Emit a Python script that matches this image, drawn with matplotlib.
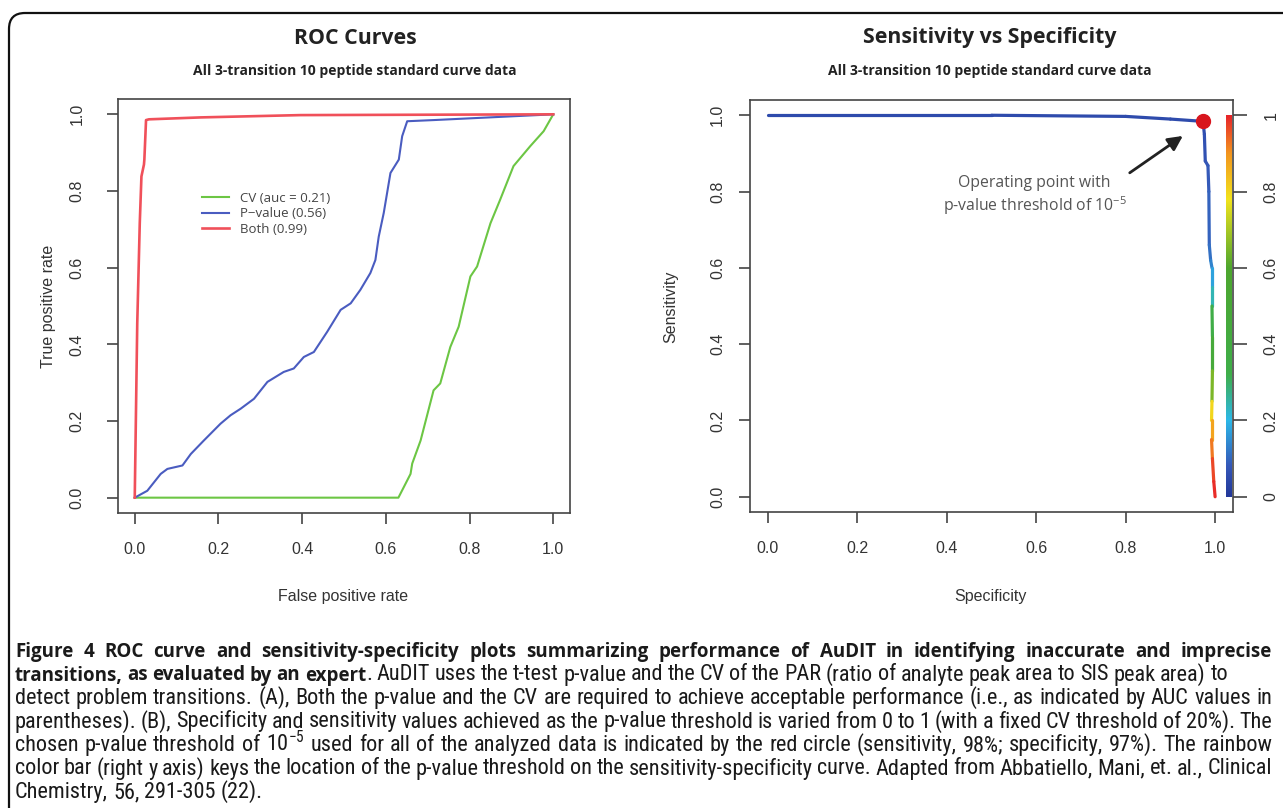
import numpy as np
import matplotlib
matplotlib.use('Agg')
import matplotlib.pyplot as plt
from matplotlib import font_manager
from matplotlib.collections import LineCollection
from matplotlib.colors import LinearSegmentedColormap
from matplotlib.patches import FancyBboxPatch
from matplotlib.transforms import IdentityTransform

plt.rcParams['mathtext.default'] = 'regular'

# --- ROC curves (panel A) ---
cv_fpr = [0.0, 0.30, 0.63, 0.659, 0.663, 0.683, 0.714, 0.730, 0.754, 0.774, 0.802, 0.818, 0.850, 0.873, 0.905, 0.945, 0.977, 1.0]
cv_tpr = [0.0, 0.0, 0.0, 0.062, 0.089, 0.149, 0.280, 0.298, 0.393, 0.446, 0.577, 0.603, 0.716, 0.777, 0.865, 0.917, 0.956, 1.0]

pv_fpr = [0.0, 0.030, 0.062, 0.078, 0.114, 0.134, 0.165, 0.205, 0.229, 0.253, 0.285, 0.317, 0.356, 0.380,
          0.404, 0.428, 0.460, 0.492, 0.516, 0.539, 0.563, 0.575, 0.583, 0.595, 0.611, 0.631, 0.639, 0.651, 0.714, 1.0]
pv_tpr = [0.0, 0.018, 0.062, 0.075, 0.084, 0.114, 0.149, 0.193, 0.215, 0.232, 0.258, 0.302, 0.328, 0.337,
          0.367, 0.380, 0.433, 0.490, 0.507, 0.542, 0.586, 0.620, 0.681, 0.743, 0.847, 0.882, 0.943, 0.982, 0.985, 1.0]

both_fpr = [0.0, 0.006, 0.012, 0.016, 0.022, 0.023, 0.027, 0.034, 0.158, 0.396, 1.0]
both_tpr = [0.0, 0.455, 0.716, 0.838, 0.869, 0.882, 0.985, 0.987, 0.992, 0.998, 1.0]

roc_labels = ['CV (auc = 0.21)', 'P\u2212value (0.56)', 'Both (0.99)']

# --- Sensitivity vs specificity (panel B), colored by p-value threshold ---
spec = [0.0, 0.5, 0.8, 0.9, 0.973, 0.976, 0.978, 0.984, 0.986, 0.987, 0.990, 0.993, 0.993, 0.993,
        0.994, 0.994, 0.993, 0.992, 0.992, 0.994, 0.997, 1.0]
sens = [1.0, 1.0, 0.997, 0.990, 0.984, 0.950, 0.880, 0.868, 0.800, 0.660, 0.620, 0.600, 0.550, 0.500,
        0.420, 0.330, 0.250, 0.200, 0.150, 0.100, 0.040, 0.0]
pthr = [0.05, 0.05, 0.05, 0.05, 0.05, 0.06, 0.07, 0.08, 0.09, 0.10, 0.12, 0.15, 0.20, 0.28,
        0.40, 0.55, 0.75, 0.85, 0.90, 0.95, 0.98, 1.0]
op_spec, op_sens = 0.973, 0.984

tick_vals = [0.0, 0.2, 0.4, 0.6, 0.8, 1.0]
tick_labels = ['0.0', '0.2', '0.4', '0.6', '0.8', '1.0']
right_labels = ['0', '0.2', '0.4', '0.6', '0.8', '1']

caption_lines = [
    [("Figure 4 ROC curve and sensitivity-specificity plots summarizing performance of AuDIT in identifying inaccurate and imprecise", 'bold')],
    [("transitions, as evaluated by an expert", 'bold'),
     (". AuDIT uses the t-test p-value and the CV of the PAR (ratio of analyte peak area to SIS peak area) to", 'normal')],
    [("detect problem transitions. (A), Both the p-value and the CV are required to achieve acceptable performance (i.e., as indicated by AUC values in", 'normal')],
    [("parentheses). (B), Specificity and sensitivity values achieved as the p-value threshold is varied from 0 to 1 (with a fixed CV threshold of 20%). The", 'normal')],
    [("chosen p-value threshold of 10$^{-5}$ used for all of the analyzed data is indicated by the red circle (sensitivity, 98%; specificity, 97%). The rainbow", 'normal')],
    [("color bar (right y axis) keys the location of the p-value threshold on the sensitivity-specificity curve. Adapted from Abbatiello, Mani, et. al., Clinical", 'normal')],
    [("Chemistry, 56, 291-305 (22).", 'normal')],
]
caption_right = [1272, 1228, 1272, 1272, 1272, 1272, None]

# fonts: look for a condensed sans for the caption body
fonts = font_manager.fontManager.ttflist
names = {f.name for f in fonts}
NARROW, NARROW_STRETCH = 'Liberation Sans', 'normal'
for cand in ['Liberation Sans Narrow', 'Roboto Condensed', 'Noto Sans Condensed', 'Open Sans Condensed',
             'DejaVu Sans Condensed']:
    if cand in names:
        NARROW = cand
        break
else:
    for fam in ['Noto Sans', 'Open Sans', 'DejaVu Sans']:
        if any(f.name == fam and f.stretch in ('condensed', 'semi-condensed', 500)
               for f in fonts):
            NARROW, NARROW_STRETCH = fam, 'condensed'
            break
AXFONT = 'Liberation Sans'
TFONT = 'Open Sans'

W, H = 1283, 808
fig = plt.figure(figsize=(W / 100, H / 100), dpi=100)


def px_axes(l, t, r, b):
    return fig.add_axes([l / W, 1 - b / H, (r - l) / W, (b - t) / H])


def style_axes(ax, ypad):
    ax.set_xlim(-0.04, 1.04)
    ax.set_ylim(-0.04, 1.04)
    for s in ax.spines.values():
        s.set_color('#444444')
        s.set_linewidth(1.2)
    ax.set_xticks(tick_vals)
    ax.set_xticklabels(tick_labels, fontsize=11.5, family=AXFONT, color='#333333')
    ax.set_yticks(tick_vals)
    ax.set_yticklabels(tick_labels, fontsize=11.5, family=AXFONT, color='#333333',
                       rotation=90, va='center')
    ax.tick_params(axis='x', length=8, width=1.2, color='#444444', pad=13)
    ax.tick_params(axis='y', length=8, width=1.2, color='#444444', pad=ypad)


# ---------------- panel A ----------------
axA = px_axes(118, 99, 570, 513)
style_axes(axA, 16)
axA.plot(cv_fpr, cv_tpr, color='#6cc644', lw=1.5, label=roc_labels[0])
axA.plot(pv_fpr, pv_tpr, color='#4a5cc0', lw=1.5, label=roc_labels[1])
axA.plot(both_fpr, both_tpr, color='#f0505a', lw=1.9, label=roc_labels[2])
leg = axA.legend(loc='upper left', bbox_to_anchor=(0.16, 0.805), frameon=False,
                 prop={'family': TFONT, 'size': 9.5}, handlelength=2.0,
                 handletextpad=0.9, labelspacing=0.2)
for t in leg.get_texts():
    t.set_color('#444444')

# ---------------- panel B ----------------
axB = px_axes(750, 100, 1233, 512)
style_axes(axB, 10)

cmap = LinearSegmentedColormap.from_list('pv', [
    (0.0, '#23389a'), (0.08, '#3558b8'), (0.2, '#2cb8e8'), (0.32, '#3fae4a'),
    (0.6, '#4ea62e'), (0.78, '#f2e31c'), (0.9, '#f3961f'), (1.0, '#e8242a')])

pts = np.column_stack([spec, sens])
segs = np.stack([pts[:-1], pts[1:]], axis=1)
seg_c = [(a + b) / 2 for a, b in zip(pthr[:-1], pthr[1:])]
lc = LineCollection(segs, cmap=cmap, linewidths=2.3, capstyle='round', joinstyle='round')
lc.set_array(np.array(seg_c))
lc.set_clim(0, 1)
axB.add_collection(lc)

# rainbow key along right edge
grad = np.linspace(0, 1, 256).reshape(-1, 1)
axB.imshow(grad, cmap=cmap, origin='lower', aspect='auto', extent=[1.024, 1.037, 0, 1],
           interpolation='bilinear', zorder=2)
axB.set_xlim(-0.04, 1.04)
axB.set_ylim(-0.04, 1.04)

axB.plot([op_spec], [op_sens], 'o', color='#d8161e', ms=10, zorder=5)
axB.annotate('', xy=(0.933, 0.950), xytext=(0.804, 0.845),
             arrowprops=dict(arrowstyle='-|>', color='#222222', lw=2, mutation_scale=22))
axB.text(0.596, 0.788, 'Operating point with\np-value threshold of 10$^{-5}$', ha='center',
         va='center', fontsize=11.3, family=TFONT, color='#555555', linespacing=1.2)

axR = axB.twinx()
axR.set_ylim(-0.04, 1.04)
axR.set_yticks(tick_vals)
axR.set_yticklabels(right_labels, fontsize=11.5, family=AXFONT, color='#333333',
                    rotation=90, va='center')
axR.tick_params(axis='y', length=10, width=1.2, color='#444444', pad=12)
for s in axR.spines.values():
    s.set_visible(False)

# titles and axis labels
for cx, title in [(355, 'ROC Curves'), (990, 'Sensitivity vs Specificity')]:
    fig.text(cx / W, 1 - 38 / H, title, ha='center', va='center', fontsize=15.3,
             fontweight='bold', family=TFONT, color='#222222')
    fig.text(cx / W, 1 - 71 / H, 'All 3-transition 10 peptide standard curve data', ha='center',
             va='center', fontsize=10, fontweight='bold', family=TFONT, color='#222222')
fig.text(343 / W, 1 - 597 / H, 'False positive rate', ha='center', va='center', fontsize=11.5,
         family=AXFONT, color='#333333')
fig.text(990 / W, 1 - 597 / H, 'Specificity', ha='center', va='center', fontsize=11.5,
         family=AXFONT, color='#333333')
fig.text(49 / W, 1 - 306 / H, 'True positive rate', ha='center', va='center', rotation=90,
         fontsize=11.5, family=AXFONT, color='#333333')
fig.text(671 / W, 1 - 307 / H, 'Sensitivity', ha='center', va='center', rotation=90,
         fontsize=11.5, family=AXFONT, color='#333333')

# rounded frame around the whole figure
frame = FancyBboxPatch((9, -40), 1320, H - 13 + 40, boxstyle='round,pad=0,rounding_size=16',
                       transform=IdentityTransform(), fill=False, ec='#111111', lw=1.6)
fig.add_artist(frame)

# caption, justified word by word
renderer = fig.canvas.get_renderer()
cap_left = 15


def cap_text(x, y, s, weight):
    if weight == 'bold':
        return fig.text(x / W, 1 - y / H, s, ha='left', va='baseline', fontsize=13.5,
                        fontweight='bold', family=TFONT, color='#1a1a1a')
    return fig.text(x / W, 1 - y / H, s, ha='left', va='baseline', fontsize=16,
                    family=NARROW, fontstretch=NARROW_STRETCH, color='#1a1a1a')


for i, line in enumerate(caption_lines):
    base = 657 + i * 23.5
    words = []
    for txt, wt in line:
        toks = txt.split(' ')
        for j, tok in enumerate(toks):
            if j == 0 and words and not txt.startswith(' '):
                if tok:
                    words[-1].append((tok, wt))
            elif tok:
                words.append([(tok, wt)])
    arts = []
    total = 0
    for w in words:
        wa = []
        for tok, wt in w:
            t = cap_text(0, base, tok, wt)
            wd = t.get_window_extent(renderer).width
            wa.append((t, wd))
            total += wd
        arts.append(wa)
    right = caption_right[i]
    if right is None or len(words) < 2:
        gap = 5
    else:
        gap = (right - cap_left - total) / (len(words) - 1)
    x = cap_left
    for wa in arts:
        for t, wd in wa:
            t.set_x(x / W)
            x += wd
        x += gap

fig.savefig('out.png', dpi=100)
